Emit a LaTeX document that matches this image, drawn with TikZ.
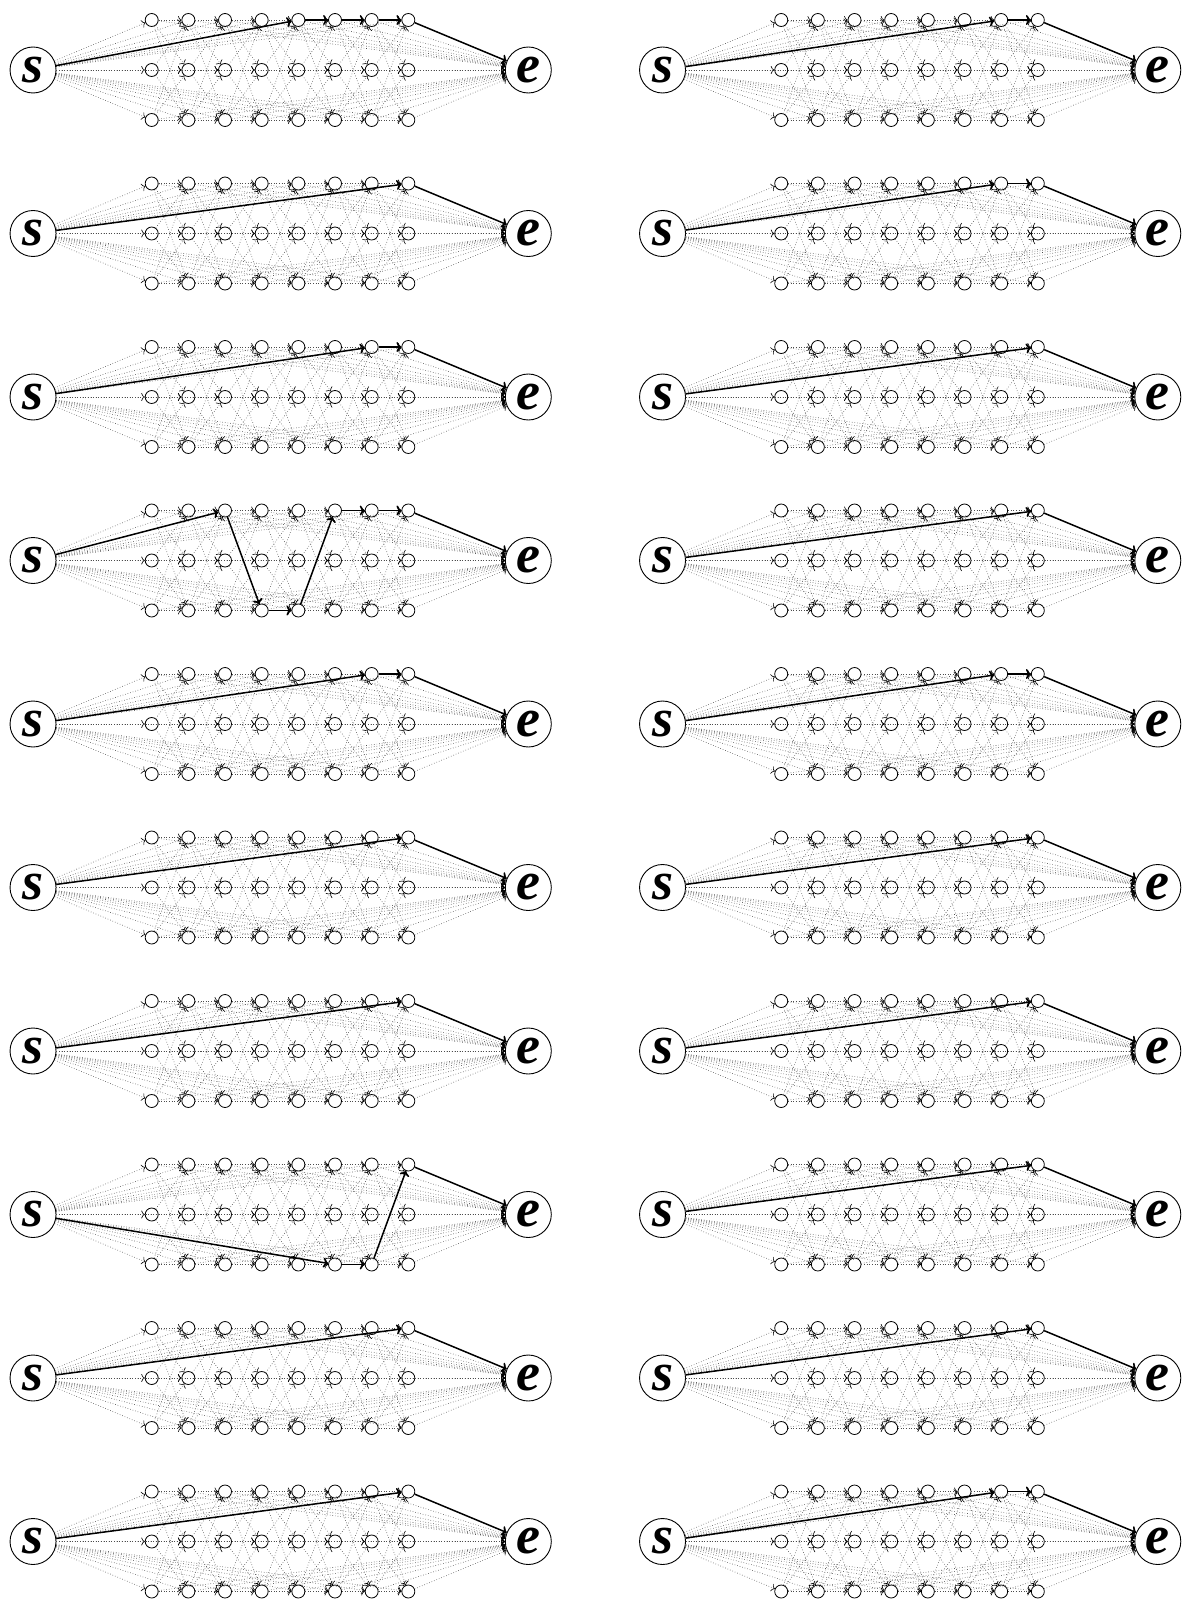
\documentclass[tikz,border=0pt]{standalone}
\usepackage{fontspec}
\setmainfont{Liberation Serif}
\usetikzlibrary{arrows.meta}
\tikzset{
  big/.style={circle,draw,line width=0.9pt,minimum size=46pt,inner sep=0pt,font=\fontsize{54}{54}\selectfont\bfseries\itshape},
  small/.style={circle,draw,line width=0.8pt,minimum size=13pt,inner sep=0pt},
  weak/.style={draw=black!70,line width=0.6pt,dash pattern=on 0.6pt off 2.01857pt,-{To[length=3.5pt,width=8pt,black]}},
  strong/.style={line width=1.5pt,-{To[length=5pt,width=10pt]}},
}
\newcommand\chainpath[2]{%
  \foreach \x [remember=\x as \lastx (initially s#1)] in {#2,e#1} {
    \draw[strong] (\lastx) -- (\x);
  }%
}
\begin{document}
\begin{tikzpicture}[x=1pt,y=-1pt]
\useasboundingbox (0,0) rectangle (1187,1605);
\foreach \p in {0,...,19} {
  \pgfmathsetmacro\px{mod(\p,2)*629.5}
  \pgfmathsetmacro\py{70+floor(\p/2)*163.5}
  \begin{scope}[shift={(\px,\py)}]
    \node[big] (s\p) at (33.026,0) {s};
    \node[big] (e\p) at (528.3,0) {e};
    \foreach \c in {1,...,8} {
      \foreach \r in {0,1,2} {
        \node[small] (n\p-\c-\r) at ({151.7+(\c-1)*36.66},{(\r-1)*50}) {};
      }
    }
    \foreach \c in {1,...,8} {
      \foreach \r in {0,1,2} {
        \draw[weak] (s\p) -- (n\p-\c-\r);
        \draw[weak] (n\p-\c-\r) -- (e\p);
      }
    }
    \foreach \c [evaluate=\c as \d using int(\c+1)] in {1,...,7} {
      \foreach \r in {0,1,2} {
        \foreach \q in {0,1,2} {
          \draw[weak] (n\p-\c-\r) -- (n\p-\d-\q);
        }
      }
    }
  \end{scope}
}
\chainpath{0}{n0-5-0,n0-6-0,n0-7-0,n0-8-0}
\chainpath{1}{n1-7-0,n1-8-0}
\chainpath{2}{n2-8-0}
\chainpath{3}{n3-7-0,n3-8-0}
\chainpath{4}{n4-7-0,n4-8-0}
\chainpath{5}{n5-8-0}
\chainpath{6}{n6-3-0,n6-4-2,n6-5-2,n6-6-0,n6-7-0,n6-8-0}
\chainpath{7}{n7-8-0}
\chainpath{8}{n8-7-0,n8-8-0}
\chainpath{9}{n9-7-0,n9-8-0}
\chainpath{10}{n10-8-0}
\chainpath{11}{n11-8-0}
\chainpath{12}{n12-8-0}
\chainpath{13}{n13-8-0}
\chainpath{14}{n14-6-2,n14-7-2,n14-8-0}
\chainpath{15}{n15-8-0}
\chainpath{16}{n16-8-0}
\chainpath{17}{n17-8-0}
\chainpath{18}{n18-8-0}
\chainpath{19}{n19-7-0,n19-8-0}
\end{tikzpicture}
\end{document}
